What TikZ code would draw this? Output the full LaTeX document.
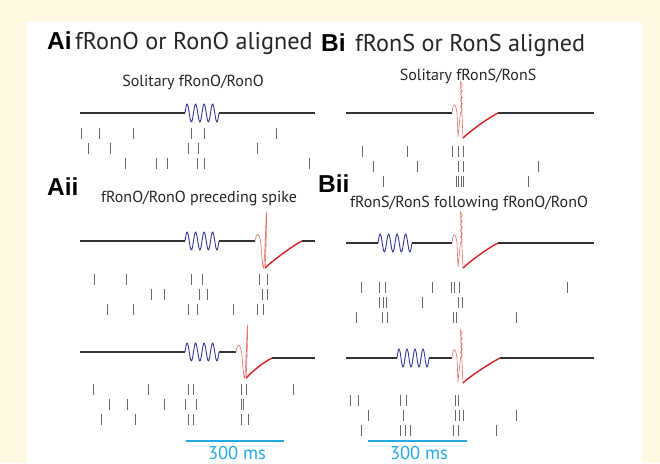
\documentclass[tikz,border=0pt]{standalone}
\usepackage{fontspec}
\setmainfont{PT Sans}
\newfontfamily\lblfont{Liberation Sans}
\definecolor{paper}{RGB}{255,249,227}
\definecolor{tracegray}{RGB}{50,50,50}
\definecolor{oscblue}{RGB}{55,55,150}
\definecolor{spkred}{RGB}{232,115,100}
\definecolor{recred}{RGB}{215,30,35}
\definecolor{tickgray}{RGB}{105,105,105}
\definecolor{barcyan}{RGB}{35,170,225}
\begin{document}
\begin{tikzpicture}[x=1pt, y=-1pt,
  trace/.style={tracegray, line width=1.6pt},
  osc/.style={oscblue, line width=0.9pt},
  spk/.style={spkred, line width=0.6pt},
  rec/.style={recred, line width=1.4pt},
  tick/.style={tickgray, line width=0.9pt},
  bar/.style={barcyan, line width=1.8pt},
  panel/.style={font=\lblfont\bfseries\fontsize{24.5}{25}\selectfont, anchor=base west, inner sep=0pt},
  head/.style={font=\fontsize{24.2}{25}\selectfont, text=black!85, anchor=base west, inner sep=0pt},
  sub/.style={font=\fontsize{16}{17}\selectfont, text=black!85, anchor=base, inner sep=0pt},
  scl/.style={font=\fontsize{18.5}{19}\selectfont, text=barcyan, anchor=base, inner sep=0pt}]
  \fill[paper] (0,0) rectangle (660,463);
  \fill[white] (27,22) rectangle (642,463);
  \useasboundingbox (0,0) rectangle (660,463);
  % titles
  \node[panel] (ai) at (47,49) {Ai};
  \node[head] (aihead) at (75,49) {fRonO or RonO aligned};
  \node[panel] (bi) at (321,51) {Bi};
  \node[head] (bihead) at (355,51) {fRonS or RonS aligned};
  \node[sub] (aititle) at (193,86) {Solitary fRonO/RonO};
  \node[sub] (bititle) at (468,80) {Solitary fRonS/RonS};
  \node[panel] (aii) at (47,195) {Aii};
  \node[sub] (aiititle) at (199,202) {fRonO/RonO preceding spike};
  \node[panel] (bii) at (318,192) {Bii};
  \node[sub] (biititle) at (469,207) {fRonS/RonS following fRonO/RonO};
  % flat parts of the traces
  \draw[trace] (80,113) -- (185,113) (219,113) -- (315,113);
  \draw[trace] (80,241) -- (185,241) (219,241) -- (255,241) (302,241) -- (315,241);
  \draw[trace] (80,352) -- (185,352) (219,352) -- (236,352) (272,358) -- (315,358);
  \draw[trace] (346,113) -- (452,113) (498,113) -- (594,113);
  \draw[trace] (346,243) -- (378,243) (412,243) -- (452,243) (498,243) -- (594,243);
  \draw[trace] (346,358) -- (397,358) (429,358) -- (452,358) (500,358) -- (594,358);
  % oscillations
  \foreach \w/\b/\l in {185/113/34, 185/241/34, 185/352/34, 378/243/34, 397/358/32}
    \draw[osc] plot[smooth, domain=0:4, samples=61] ({\w+\x*\l/4}, {\b-9*sin(360*\x)});
  % spikes, A side
  \foreach \s/\b/\p/\t/\e/\f in {255/241/28/27/302/241, 236/352/26/26/272/358} {
    \draw[spk] (\s,\b) .. controls ({\s+1.5},{\b-9}) and ({\s+4},{\b-9}) .. ({\s+5.5},{\b})
      .. controls ({\s+6.5},{\b+8}) and ({\s+7.5},{\b+\t}) .. ({\s+8.5},{\b+\t})
      .. controls ({\s+9.5},{\b+\t}) and ({\s+11},{\b-\p}) .. ({\s+11.5},{\b-\p})
      .. controls ({\s+12},{\b-\p}) and ({\s+10.5},{\b+\t}) .. ({\s+10},{\b+\t});
    \draw[rec] ({\s+10},{\b+\t}) .. controls ({\s+16},{\b+\t-6}) and ({\e-10},{\f+5}) .. (\e,\f);
  }
  % spikes with ripple, B side
  \foreach \s/\b/\p/\t/\e/\f in {452/113/31/25/498/113, 452/243/31/25/498/243, 452/358/28/25/500/358} {
    \draw[spk] (\s,\b) .. controls ({\s+1},{\b-11}) and ({\s+3.5},{\b-11}) .. ({\s+5},{\b})
      -- ({\s+6},{\b+\t-1}) -- ({\s+8.5},{\b})
      \foreach \k in {1,...,10} { -- ({\s+8.5+1.8*mod(\k,2)},{\b-\k*\p/10}) }
      -- ({\s+11},{\b+\t});
    \draw[rec] ({\s+11},{\b+\t}) .. controls ({\s+17},{\b+\t-6}) and ({\e-10},{\f+5}) .. (\e,\f);
  }
  % spike trains Ai
  \foreach \y/\xs in {128/{81,99,133,191,204,276}, 143/{88,110,188,198,257}, 158/{125,156,167,197,204,309}}
    \foreach \x in \xs \draw[tick] (\x,\y) -- ++(0,11);
  % spike trains Bi
  \foreach \y/\xs in {146/{362,407,452,458,463}, 161/{373,417,458,463,538}, 176/{383,456,458.5,461,463.5,528}}
    \foreach \x in \xs \draw[tick] (\x,\y) -- ++(0,11);
  % spike trains Aii
  \foreach \y/\xs in {274/{94,126,191,202,259,267}, 289/{151,164,199,207,262,267}, 304/{107,133,188,197,233,257,263},
                      384/{93,148,188,193,241,246,293}, 399/{109,127,164,185,196,241,243}, 414/{101,135,188,193,241,248}}
    \foreach \x in \xs \draw[tick] (\x,\y) -- ++(0,11);
  % spike trains Bii
  \foreach \y/\xs in {282/{361,379,385,432,451,454,459,567}, 297/{379,383,386,422,458,462}, 312/{356,382,387,453,456,516},
                      395/{350,358,400,406,455,458}, 410/{368,403,455,459,463,516}, 425/{361,400,405,410,453,458,496}}
    \foreach \x in \xs \draw[tick] (\x,\y) -- ++(0,11);
  % scale bars
  \coordinate (sa0) at (186,441);
  \coordinate (sa1) at (284,441);
  \coordinate (sb0) at (368,441);
  \coordinate (sb1) at (467,441);
  \draw[bar] (sa0) -- (sa1);
  \draw[bar] (sb0) -- (sb1);
  \node[scl] (salabel) at (237,459) {300 ms};
  \node[scl] (sblabel) at (419,459) {300 ms};
\end{tikzpicture}
\end{document}
